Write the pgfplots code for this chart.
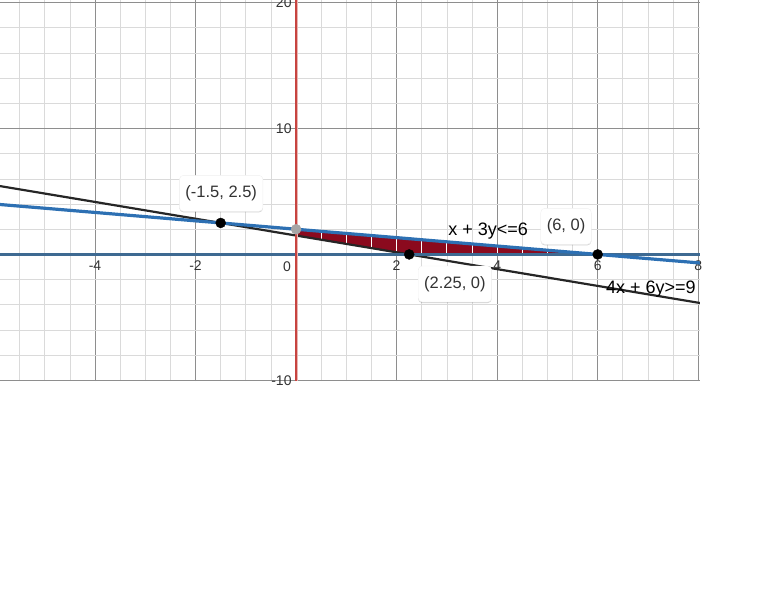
\documentclass[border=0pt]{standalone}
\usepackage{fontspec}
\setmainfont{Liberation Sans}
\usepackage{pgfplots}
\pgfplotsset{compat=1.18}
\usetikzlibrary{shadows}
\definecolor{dblue}{HTML}{2D70B3}
\definecolor{hblue}{HTML}{3E6A92}
\definecolor{dred}{HTML}{C74440}
\definecolor{shade}{HTML}{8B0A1E}
\definecolor{majg}{HTML}{8E8E8E}
\definecolor{ming}{HTML}{DADADA}
\definecolor{txt}{HTML}{333333}
\tikzset{lbl/.style={fill=white, rounded corners=4pt, draw=gray!12, text=txt,
  drop shadow={shadow xshift=0pt, shadow yshift=-1pt, opacity=0.18, fill=black},
  inner xsep=6pt, minimum height=36pt, font=\fontsize{16.5}{18}\selectfont}}
\begin{document}
\begin{tikzpicture}
\path[use as bounding box] (0,0) rectangle (768pt,-614pt);
\begin{axis}[
  at={(0pt,0pt)}, anchor=north west,
  scale only axis, width=700pt, height=381pt,
  xmin=-5.89, xmax=8.035, ymin=-10.05, ymax=20.2,
  axis lines=middle, axis line style={draw=none},
  xtick={-4,-2,2,4,6,8}, ytick={-10,10,20},
  extra x ticks={0}, extra x tick labels={},
  extra y ticks={0}, extra y tick labels={},
  extra tick style={grid=major, major grid style={majg, line width=0.7pt}},
  minor xtick={-5.5,-5,...,8}, minor ytick={-10,-8,...,20},
  grid=both,
  major grid style={majg, line width=0.7pt},
  minor grid style={ming, line width=0.7pt},
  major tick length=0pt, minor tick length=0pt,
  /pgf/number format/assume math mode=true,
  ticklabel style={font=\fontsize{14}{16}\selectfont, text=txt},
  xticklabel style={anchor=north, yshift=-3pt},
  yticklabel style={anchor=east, xshift=-1pt},
  clip=true,
]
% shaded feasible region
\addplot[fill=shade, draw=shade!70!black, line width=0.6pt] coordinates {(0,1.5) (0,2) (6,0) (2.25,0)} -- cycle;
% white grid lines showing through region
\addplot[white, line width=0.8pt, unbounded coords=jump] table {
x y
0.5 1.1667
0.5 1.8333
0.5 nan
1 0.8333
1 1.6667
1 nan
1.5 0.5
1.5 1.5
1.5 nan
2 0.1667
2 1.3333
2 nan
2.5 0
2.5 1.1667
2.5 nan
3 0
3 1
3 nan
3.5 0
3.5 0.8333
3.5 nan
4 0
4 0.6667
4 nan
4.5 0
4.5 0.5
4.5 nan
5 0
5 0.3333
};
% 4x+6y=9
\addplot[black!85, line width=2.2pt] coordinates {(-5.89,5.4267) (8.035,-3.8567)};
% y=0
\addplot[hblue, line width=2.2pt] coordinates {(-5.89,0) (8.035,0)};
% x=0
\addplot[dred!40, line width=3pt] coordinates {(0,-10.05) (0,20.2)};
\addplot[dred, line width=1.4pt] coordinates {(0,-10.05) (0,20.2)};
% x+3y=6
\addplot[dblue, line width=3.2pt] coordinates {(-5.89,3.9633) (8.035,-0.6783)};
% points
\addplot[only marks, mark=*, mark size=5pt, color=black] coordinates {(-1.5,2.5) (2.25,0) (6,0)};
\addplot[only marks, mark=*, mark size=5pt, color=black!35] coordinates {(0,2)};
% labels
\node[lbl] at (axis cs:-1.49,4.85) {(-1.5, 2.5)};
\node[lbl] at (axis cs:3.16,-2.35) {(2.25, 0)};
\node[lbl] at (axis cs:5.37,2.23) {(6, 0)};
\node[font=\fontsize{18}{20}\selectfont, inner sep=0pt] at (axis cs:3.82,1.83) {x + 3y<=6};
\node[font=\fontsize{18}{20}\selectfont, inner sep=0pt] at (axis cs:7.06,-2.78) {4x + 6y>=9};
\node[font=\fontsize{14}{16}\selectfont, text=txt, inner sep=0pt] at (axis cs:-0.18,-0.95) {0};
\end{axis}
\end{tikzpicture}
\end{document}
